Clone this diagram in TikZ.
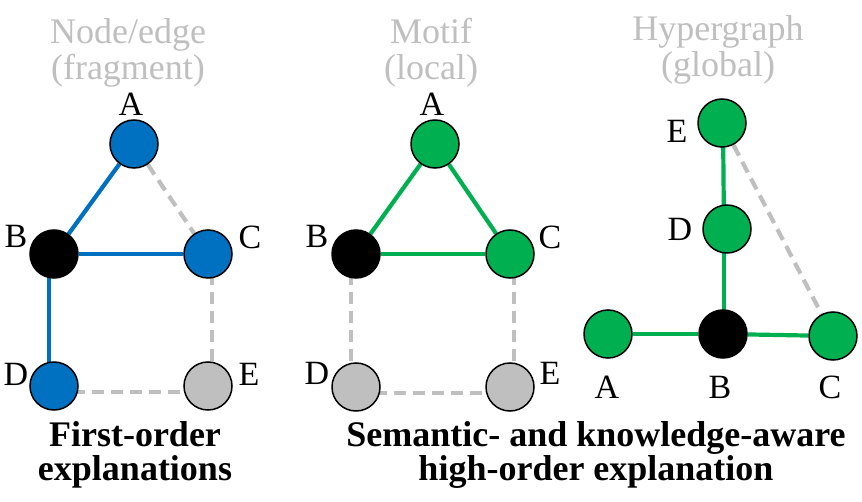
\documentclass[tikz,border=0pt]{standalone}
\usepackage{fontspec}
\setmainfont{Liberation Serif}
\usetikzlibrary{backgrounds}
\definecolor{cblue}{HTML}{0070C0}
\definecolor{cgreen}{HTML}{00B050}
\definecolor{cgrey}{HTML}{BFBFBF}
\definecolor{ctitle}{HTML}{BFBFBF}
\tikzset{
  vtx/.style={circle,draw=black,line width=1.5pt,minimum size=48pt,inner sep=0pt},
  vblue/.style={vtx,fill=cblue},
  vgreen/.style={vtx,fill=cgreen},
  vblack/.style={vtx,fill=black},
  vgrey/.style={vtx,fill=cgrey},
  lab/.style={font=\fontsize{34}{34}\selectfont,inner sep=0pt},
  ttl/.style={font=\fontsize{36}{36}\selectfont,text=ctitle,align=center,inner sep=0pt},
  captxt/.style={font=\fontsize{36}{34}\selectfont\bfseries,align=center,inner sep=0pt},
  eblue/.style={draw=cblue,line width=4.2pt},
  egreen/.style={draw=cgreen,line width=4.2pt},
  egrey/.style={draw=cgrey,line width=4.2pt,dash pattern=on 12pt off 7pt},
}
\begin{document}
\begin{tikzpicture}[x=1pt,y=-1pt]
\useasboundingbox (0,0) rectangle (862,502);
% titles
\node[ttl] (t1) at (128,53) {Node/edge\\(fragment)};
\node[ttl] (t2) at (431,53) {Motif\\(local)};
\node[ttl] (t3) at (718,50) {Hypergraph\\(global)};
% panel 1
\node[vblue]  (a1) at (134,144) {};
\node[vblack] (b1) at (54,254) {};
\node[vblue]  (c1) at (208,254) {};
\node[vblue]  (d1) at (54,386) {};
\node[vgrey]  (e1) at (208,386) {};
\node[lab] (la1) at (131,104) {A};
\node[lab] (lb1) at (16,236) {B};
\node[lab] (lc1) at (250,237) {C};
\node[lab] (ld1) at (16,374) {D};
\node[lab] (le1) at (249,374) {E};
% panel 2
\node[vgreen] (a2) at (435,144) {};
\node[vblack] (b2) at (356,254) {};
\node[vgreen] (c2) at (510,254) {};
\node[vgrey]  (d2) at (356,387) {};
\node[vgrey]  (e2) at (510,387) {};
\node[lab] (la2) at (432,104) {A};
\node[lab] (lb2) at (317,236) {B};
\node[lab] (lc2) at (550,237) {C};
\node[lab] (ld2) at (317,373) {D};
\node[lab] (le2) at (550,373) {E};
% panel 3
\node[vgreen] (e3) at (722,123) {};
\node[vgreen] (d3) at (727,229) {};
\node[vgreen] (a3) at (608,334) {};
\node[vblack] (b3) at (723,334) {};
\node[vgreen] (c3) at (833,336) {};
\node[lab] (le3) at (677,131) {E};
\node[lab] (ld3) at (680,229) {D};
\node[lab] (la3) at (607,387) {A};
\node[lab] (lb3) at (720,387) {B};
\node[lab] (lc3) at (830,387) {C};
% captions
\node[captxt] (cap1) at (135,455) {First-order\\explanations};
\node[captxt] (cap2) at (596,455) {Semantic- and knowledge-aware\\high-order explanation};
\begin{pgfonlayer}{background}
% panel 1 edges
\draw[eblue] (a1) -- (b1);
\draw[eblue] (b1) -- (c1);
\draw[eblue] ([xshift=-5pt]b1.center) -- ([xshift=-5pt]d1.center);
\draw[egrey] (a1) -- (c1);
\draw[egrey] ([xshift=4pt]c1.center) -- ([xshift=4pt]e1.center);
\draw[egrey] ([yshift=-6pt]d1.center) -- ([yshift=-6pt]e1.center);
% panel 2 edges
\draw[egreen] (a2) -- (b2);
\draw[egreen] (a2) -- (c2);
\draw[egreen] (b2) -- (c2);
\draw[egrey] ([xshift=-5pt]b2.center) -- ([xshift=-5pt]d2.center);
\draw[egrey] ([xshift=4pt]c2.center) -- ([xshift=4pt]e2.center);
\draw[egrey] ([yshift=-6pt]d2.center) -- ([yshift=-6pt]e2.center);
% panel 3 edges
\draw[egreen] ([xshift=1pt]e3.center) -- ([xshift=-3pt]d3.center);
\draw[egreen] ([xshift=-3pt]d3.center) -- ([xshift=1pt]b3.center);
\draw[egreen] (a3) -- (b3);
\draw[egreen] (b3) -- (c3);
\draw[egrey] (e3) -- (c3);
\end{pgfonlayer}
\end{tikzpicture}
\end{document}
